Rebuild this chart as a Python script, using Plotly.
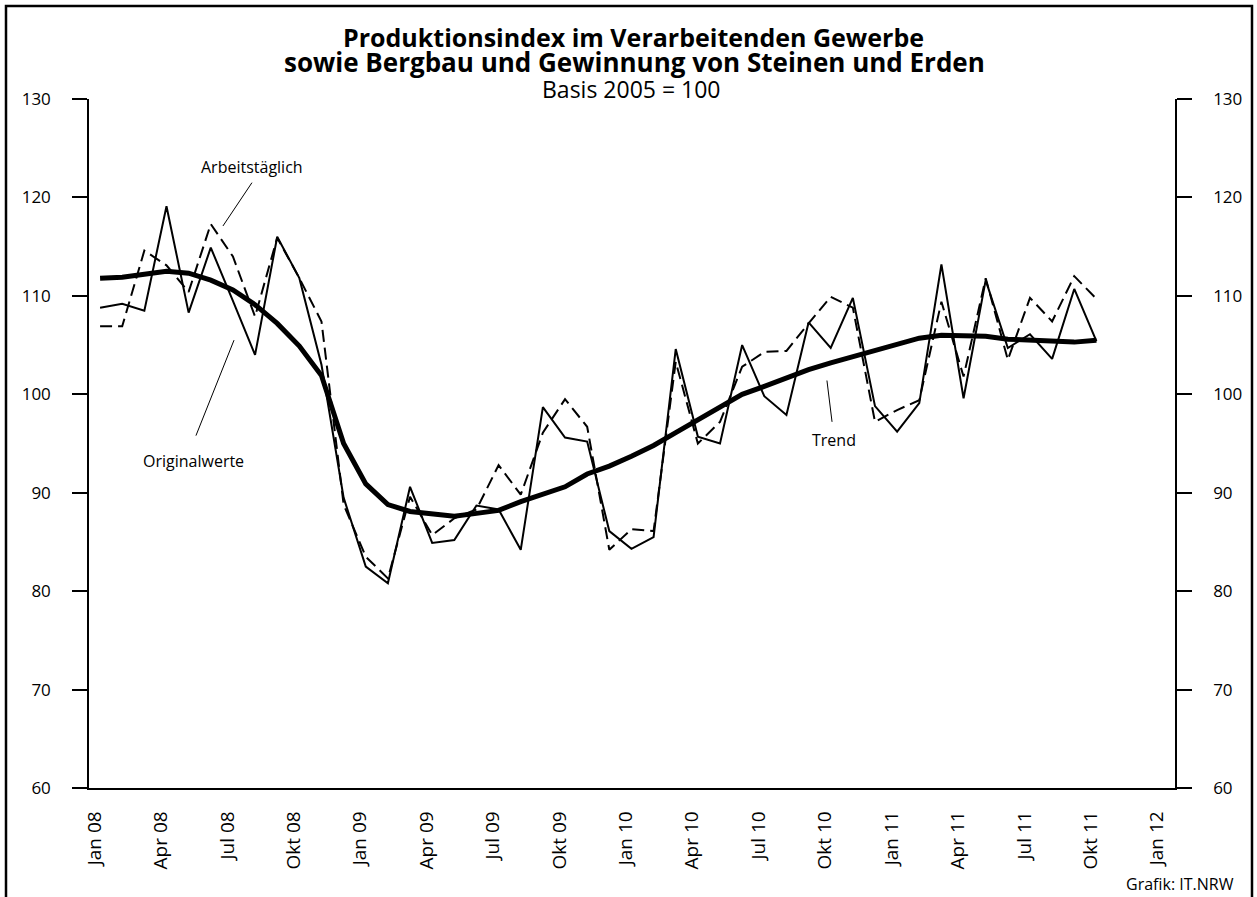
import plotly.graph_objects as go

months = list(range(46))  # Jan 08 .. Okt 11
originalwerte = [108.8, 109.2, 108.5, 119.1, 108.3, 114.9, 109.5, 104.0, 116.0, 111.8,
                 103.0, 89.5, 82.5, 80.8, 90.6, 84.9, 85.2, 88.7, 88.3, 84.2,
                 98.7, 95.6, 95.2, 86.1, 84.3, 85.5, 104.6, 95.7, 95.0, 105.0,
                 99.8, 97.9, 107.3, 104.7, 109.8, 98.8, 96.2, 99.1, 113.2, 99.6,
                 111.6, 104.7, 106.1, 103.6, 110.7, 105.4]
arbeitstaeglich = [106.9, 106.9, 114.6, 113.1, 110.4, 117.3, 114.0, 107.9, 115.9, 111.8,
                   107.4, 88.8, 83.5, 81.3, 89.6, 85.7, 87.4, 88.3, 92.8, 89.8,
                   96.1, 99.5, 96.7, 84.2, 86.3, 86.1, 103.3, 95.0, 97.2, 102.8,
                   104.3, 104.4, 107.2, 109.9, 108.8, 97.2, 98.4, 99.4, 109.4, 101.8,
                   111.8, 103.5, 109.8, 107.4, 112.0, 109.7]
trend = [111.8, 111.9, 112.2, 112.5, 112.3, 111.6, 110.6, 109.1, 107.2, 104.9,
         101.9, 95.0, 90.9, 88.8, 88.1, 87.8, 87.6, 87.9, 88.2, 89.1,
         89.9, 90.6, 91.9, 92.7, 93.7, 94.8, 96.1, 97.4, 98.8, 100.0,
         100.8, 101.7, 102.5, 103.2, 103.8, 104.5, 105.0, 105.7, 106.0, 106.0,
         105.9, 105.6, 105.5, 105.4, 105.3, 105.5]
tick_positions = [0, 3, 6, 9, 12, 15, 18, 21, 24, 27, 30, 33, 36, 39, 42, 45, 48]
tick_labels = ["Jan 08", "Apr 08", "Jul 08", "Okt 08", "Jan 09", "Apr 09", "Jul 09", "Okt 09",
               "Jan 10", "Apr 10", "Jul 10", "Okt 10", "Jan 11", "Apr 11", "Jul 11", "Okt 11", "Jan 12"]
y_ticks = [60, 70, 80, 90, 100, 110, 120, 130]

FONT = "Open Sans"
xs = [m + 0.25 for m in months]

fig = go.Figure()
fig.add_trace(go.Scatter(x=xs, y=arbeitstaeglich, mode="lines", name="Arbeitstäglich",
                         line=dict(color="black", width=2, dash="12px,6px")))
fig.add_trace(go.Scatter(x=xs, y=originalwerte, mode="lines", name="Originalwerte",
                         line=dict(color="black", width=2)))
fig.add_trace(go.Scatter(x=xs, y=trend, mode="lines", name="Trend",
                         line=dict(color="black", width=5)))
fig.add_trace(go.Scatter(x=xs, y=trend, mode="lines", yaxis="y2", showlegend=False,
                         hoverinfo="skip", line=dict(color="rgba(0,0,0,0)", width=0)))

fig.update_layout(
    width=1257, height=897,
    margin=dict(l=89, r=82, t=99, b=109),
    paper_bgcolor="white", plot_bgcolor="white",
    showlegend=False,
    font=dict(family=FONT, color="black"),
    xaxis=dict(range=[-0.25, 48.8], tickvals=tick_positions, ticktext=tick_labels,
               tickangle=-90, ticks="", showgrid=False, zeroline=False,
               showline=True, linecolor="black", linewidth=1.5,
               tickfont=dict(size=19, family=FONT), ticklabelstandoff=14),
    yaxis=dict(range=[60, 130], tickvals=y_ticks, ticks="outside", ticklen=15,
               tickwidth=1.5, tickcolor="black", showgrid=False, zeroline=False,
               showline=True, linecolor="black", linewidth=1.5,
               tickfont=dict(size=17, family=FONT), ticklabelstandoff=18),
    yaxis2=dict(range=[60, 130], tickvals=y_ticks, ticks="outside", ticklen=15,
                tickwidth=1.5, tickcolor="black", showgrid=False, zeroline=False,
                showline=True, linecolor="black", linewidth=1.5, side="right",
                overlaying="y", tickfont=dict(size=17, family=FONT), ticklabelstandoff=18),
)

# pointer lines
pointers = [((7.11, 121.5), (5.80, 117.1)), ((6.30, 105.5), (4.58, 95.8)), ((33.08, 101.4), (33.31, 97.2))]
for (x0, y0), (x1, y1) in pointers:
    fig.add_shape(type="line", x0=x0, y0=y0, x1=x1, y1=y1, xref="x", yref="y",
                  line=dict(color="black", width=1))

labels = [("Arbeitstäglich", 7.11, 123.1), ("Originalwerte", 4.45, 93.2), ("Trend", 33.4, 95.4)]
for t, x, y in labels:
    fig.add_annotation(text=t, x=x, y=y, xref="x", yref="y", showarrow=False,
                       xanchor="center", yanchor="middle",
                       font=dict(size=16, family=FONT))

# paper coords from pixels (plot area: x 89..1175, y 99..788)
def px_x(p):
    return (p - 89) / 1086
def px_y(p):
    return (788 - p) / 689

fig.add_annotation(text="<b>Produktionsindex im Verarbeitenden Gewerbe</b>", x=px_x(633), y=px_y(37),
                   xref="paper", yref="paper", showarrow=False, xanchor="center", yanchor="middle",
                   font=dict(size=25, family=FONT))
fig.add_annotation(text="<b>sowie Bergbau und Gewinnung von Steinen und Erden</b>", x=px_x(634), y=px_y(62),
                   xref="paper", yref="paper", showarrow=False, xanchor="center", yanchor="middle",
                   font=dict(size=26, family=FONT))
fig.add_annotation(text="Basis 2005 = 100", x=px_x(631), y=px_y(89),
                   xref="paper", yref="paper", showarrow=False, xanchor="center", yanchor="middle",
                   font=dict(size=23, family=FONT))
fig.add_annotation(text="Grafik: IT.NRW", x=px_x(1236), y=px_y(884), xanchor="right", yanchor="middle",
                   xref="paper", yref="paper", showarrow=False, font=dict(size=16, family=FONT))

fig.add_shape(type="rect", xref="paper", yref="paper",
              x0=px_x(6), x1=px_x(1252), y0=px_y(905), y1=px_y(6),
              line=dict(color="black", width=2.5), fillcolor="rgba(0,0,0,0)", layer="below")

fig.write_html("out.html", config={"displayModeBar": False},
               post_script="document.body.style.margin='0px';")
